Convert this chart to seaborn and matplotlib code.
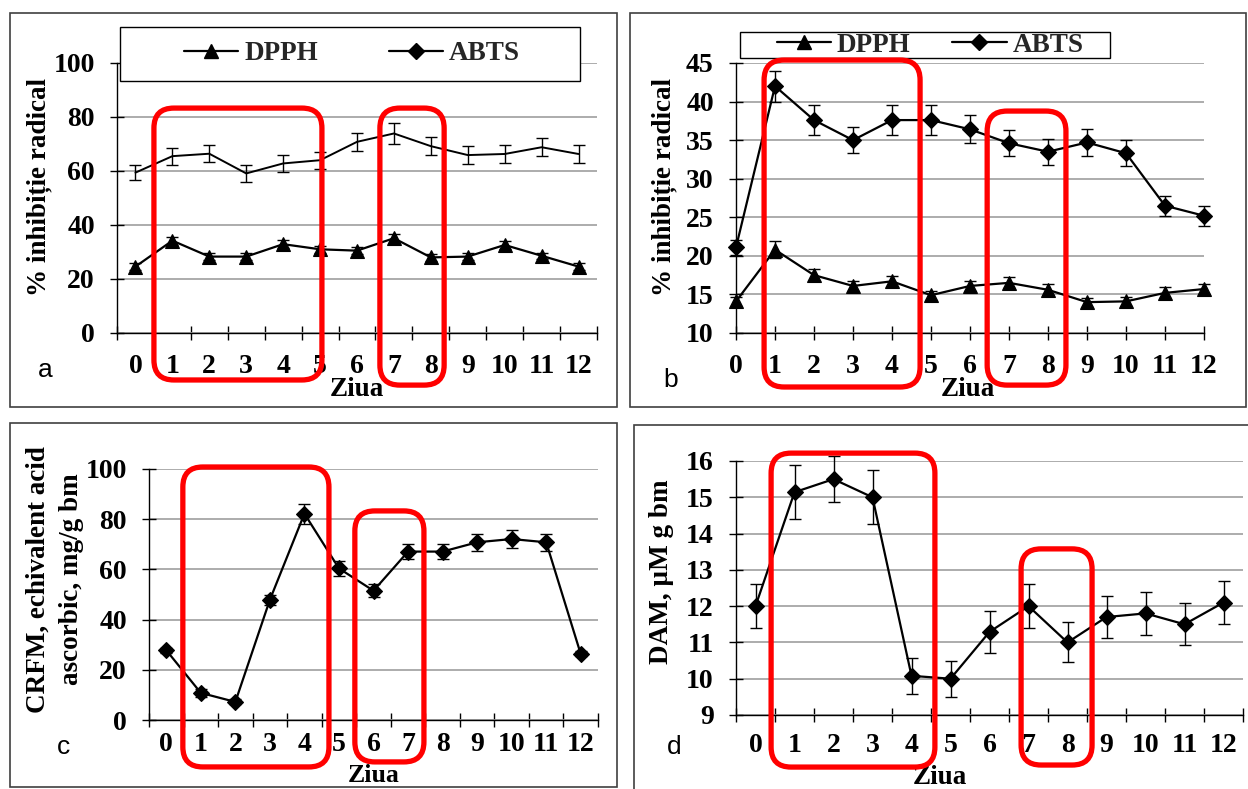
import numpy as np
import pandas as pd
import matplotlib
matplotlib.use("Agg")
import matplotlib.pyplot as plt
import seaborn as sns
from matplotlib.patches import FancyBboxPatch, Rectangle
from matplotlib.lines import Line2D
from matplotlib.transforms import blended_transform_factory, IdentityTransform

# ---------------- data ----------------
days = list(range(13))
day_labels = [str(d) for d in days]

a_dpph = [24.6, 34.2, 28.3, 28.3, 32.9, 31.0, 30.5, 35.1, 28.0, 28.3, 32.6, 28.6, 24.6]
a_dpph_err = [1.2, 1.5, 1.3, 1.3, 1.5, 1.3, 1.2, 1.6, 1.2, 1.2, 1.5, 1.2, 1.2]
a_abts = [59.4, 65.5, 66.4, 59.1, 62.8, 64.0, 70.8, 73.9, 69.2, 65.9, 66.3, 68.8, 66.3]
a_abts_err = [2.9, 3.2, 3.2, 3.0, 3.0, 3.1, 3.4, 3.8, 3.4, 3.3, 3.2, 3.4, 3.3]

b_dpph = [14.1, 20.8, 17.5, 16.1, 16.7, 14.9, 16.1, 16.5, 15.6, 14.0, 14.1, 15.2, 15.7]
b_dpph_err = [0.6, 1.1, 0.8, 0.7, 0.7, 0.6, 0.7, 0.7, 0.7, 0.6, 0.6, 0.7, 0.7]
b_abts = [21.1, 42.0, 37.6, 35.0, 37.6, 37.6, 36.4, 34.6, 33.5, 34.7, 33.3, 26.5, 25.2]
b_abts_err = [1.0, 2.0, 1.9, 1.7, 1.9, 1.9, 1.8, 1.7, 1.7, 1.7, 1.7, 1.3, 1.3]

c_crfm = [27.8, 10.8, 7.2, 47.9, 82.2, 60.4, 51.5, 67.1, 67.1, 70.8, 72.1, 70.8, 26.3]
c_crfm_err = [1.0, 1.5, 1.0, 2.0, 4.0, 3.0, 2.5, 3.0, 3.0, 3.5, 3.5, 3.5, 1.0]

d_dam = [12.0, 15.14, 15.5, 15.0, 10.08, 10.0, 11.29, 12.0, 11.0, 11.7, 11.8, 11.5, 12.1]
d_dam_err = [0.6, 0.75, 0.63, 0.75, 0.5, 0.5, 0.57, 0.6, 0.55, 0.58, 0.59, 0.58, 0.6]

series_names = ["DPPH", "ABTS"]

# highlight boxes: (x0, x1) in day units, (y_top, y_bottom) in axes fraction
boxes_a = [((0.50, 5.05), (0.833, -0.174)), ((6.62, 8.36), (0.833, -0.193))]
boxes_b = [((0.72, 4.72), (1.011, -0.200)), ((6.44, 8.46), (0.822, -0.193))]
boxes_c = [((0.48, 4.71), (1.008, -0.187)), ((5.46, 7.46), (0.833, -0.167))]
boxes_d = [((0.40, 4.60), (1.031, -0.205)), ((6.81, 8.63), (0.654, -0.197))]

# ---------------- style ----------------
sns.set_theme(style="white")
plt.rcParams["font.family"] = ["Liberation Serif", "DejaVu Serif"]
plt.rcParams["font.weight"] = "bold"
plt.rcParams["axes.labelweight"] = "bold"

W, H = 1248, 789
fig = plt.figure(figsize=(W / 100, H / 100), dpi=100)
fig.patch.set_facecolor("white")

FS = 20
FSL = 19.5
GRID = "#a6a6a6"


def add_ax(l, t, r, b):
    return fig.add_axes([l / W, 1 - b / H, (r - l) / W, (b - t) / H])


def fig_rect(x0, y0, x1, y1, **kw):
    r = Rectangle((x0 / W, 1 - y1 / H), (x1 - x0) / W, (y1 - y0) / H,
                  transform=fig.transFigure, **kw)
    fig.add_artist(r)
    return r


def style_ax(ax, ylim, yticks, categorical=True, xpad=15):
    ax.set_facecolor("white")
    for s in ["top", "right"]:
        ax.spines[s].set_visible(False)
    for s in ["left", "bottom"]:
        ax.spines[s].set_color("black")
        ax.spines[s].set_linewidth(1.0)
    ax.set_ylim(*ylim)
    ax.set_yticks(yticks)
    ax.set_yticklabels([str(v) for v in yticks], fontsize=FS, fontweight="bold")
    ax.yaxis.grid(True, color=GRID, lw=1.3)
    ax.xaxis.grid(False)
    ax.set_axisbelow(True)
    ax.tick_params(axis="y", direction="inout", length=10, width=1, color="black",
                   pad=11, left=True)
    if categorical:
        ax.set_xlim(-0.5, 12.5)
        ax.set_xticks(days)
        ax.set_xticklabels(day_labels, fontsize=FS, fontweight="bold")
        ax.set_xticks(np.arange(-0.5, 13, 1.0), minor=True)
        ax.tick_params(axis="x", which="major", length=0, pad=xpad)
        ax.tick_params(axis="x", which="minor", direction="inout", length=10,
                       width=1, color="black", bottom=True)
    else:
        ax.set_xlim(0, 12)
        ax.set_xticks(days)
        ax.set_xticklabels(day_labels, fontsize=FS, fontweight="bold")
        ax.tick_params(axis="x", which="major", direction="inout", length=10,
                       width=1, color="black", pad=xpad, bottom=True)
    ax.tick_params(axis="both", colors="black", labelcolor="black")


def draw_series(ax, y, err, marker, ms):
    ax.errorbar(days, y, yerr=err, fmt="none", ecolor="black", elinewidth=1.0,
                capsize=4, capthick=1.0, zorder=2, clip_on=False)
    sns.lineplot(x=days, y=y, ax=ax, color="black", lw=1.6, marker=marker,
                 markersize=ms, markeredgecolor="black", markeredgewidth=0.8,
                 errorbar=None, legend=False, zorder=3, clip_on=False)


def highlight(ax, boxes):
    trans = blended_transform_factory(ax.transData, ax.transAxes)
    for (x0, x1), (yt, yb) in boxes:
        (px0, py0) = trans.transform((x0, yb))
        (px1, py1) = trans.transform((x1, yt))
        p = FancyBboxPatch((px0, py0), px1 - px0, py1 - py0,
                           boxstyle="round,pad=0,rounding_size=20",
                           transform=IdentityTransform(), fill=False,
                           ec="#ff0000", lw=3.8, zorder=10)
        fig.add_artist(p)


def labels(ax, ylab, ylab_xy, xlab_xy, linespacing=1.2, xfs=FSL):
    ax.set_ylabel(ylab, fontsize=FSL, fontweight="bold", color="black",
                  linespacing=linespacing, va="center")
    ax.yaxis.set_label_coords(*ylab_xy)
    ax.set_xlabel("Ziua", fontsize=xfs, fontweight="bold", color="black", va="center")
    ax.xaxis.set_label_coords(*xlab_xy)


# panel frames
fig_rect(10, 13, 617, 407, fill=False, ec="#404040", lw=1.2, zorder=1)
fig_rect(630, 13, 1246, 407, fill=False, ec="#404040", lw=1.2, zorder=1)
fig_rect(10, 423, 617, 787, fill=False, ec="#404040", lw=1.2, zorder=1)
fig_rect(634, 425, 1260, 800, fill=False, ec="#404040", lw=1.2, zorder=1)

# ---------------- panel a ----------------
ax_a = add_ax(117, 63, 597, 333)
style_ax(ax_a, (0, 100), [0, 20, 40, 60, 80, 100], categorical=True, xpad=15)
draw_series(ax_a, a_dpph, a_dpph_err, "^", 10.5)
ax_a.errorbar(days, a_abts, yerr=a_abts_err, fmt="none", ecolor="black",
              elinewidth=1.0, capsize=4, capthick=1.0, zorder=2)
sns.lineplot(x=days, y=a_abts, ax=ax_a, color="black", lw=1.4, errorbar=None,
             legend=False, zorder=3)
labels(ax_a, "% inhibiție radical", (-0.163, 0.54), (0.5, -0.211))
highlight(ax_a, boxes_a)

# ---------------- panel b ----------------
ax_b = add_ax(736, 63, 1204, 333)
style_ax(ax_b, (10, 45), [10, 15, 20, 25, 30, 35, 40, 45], categorical=False, xpad=10)
draw_series(ax_b, b_dpph, b_dpph_err, "^", 10.5)
draw_series(ax_b, b_abts, b_abts_err, "D", 8.5)
labels(ax_b, "% inhibiție radical", (-0.154, 0.54), (0.496, -0.211))
highlight(ax_b, boxes_b)

# ---------------- panel c ----------------
ax_c = add_ax(149, 469, 598, 720)
style_ax(ax_c, (0, 100), [0, 20, 40, 60, 80, 100], categorical=True, xpad=8.5)
draw_series(ax_c, c_crfm, c_crfm_err, "D", 8.5)
labels(ax_c, "CRFM, echivalent acid\nascorbic, mg/g bm", (-0.209, 0.56),
       (0.5, -0.222), linespacing=1.45, xfs=18.5)
highlight(ax_c, boxes_c)

# ---------------- panel d ----------------
ax_d = add_ax(736, 461, 1243, 715)
style_ax(ax_d, (9, 16), [9, 10, 11, 12, 13, 14, 15, 16], categorical=True, xpad=13)
draw_series(ax_d, d_dam, d_dam_err, "D", 8.5)
labels(ax_d, "DAM, µM g bm", (-0.146, 0.563), (0.402, -0.248))
highlight(ax_d, boxes_d)

# ---------------- legends ----------------
handles = [Line2D([], [], color="black", lw=1.6, marker="^", markersize=10.5),
           Line2D([], [], color="black", lw=1.6, marker="D", markersize=8.5)]
leg_prop = dict(family="Liberation Serif", weight="bold", size=19.5)

fig_rect(120, 27, 580, 81, fc="white", ec="black", lw=1.0, zorder=4)
leg_a = fig.legend(handles, series_names, loc="center",
                   bbox_to_anchor=(352 / W, 1 - 54 / H), ncol=2, frameon=False,
                   handlelength=2.0, handletextpad=0.22, columnspacing=2.6,
                   prop=leg_prop)
leg_a.set_zorder(5)

fig_rect(740, 32, 1110, 58, fc="white", ec="black", lw=1.0, zorder=4)
leg_b = fig.legend(handles, series_names, loc="center",
                   bbox_to_anchor=(930 / W, 1 - 45 / H), ncol=2, frameon=False,
                   handlelength=2.0, handletextpad=0.22, columnspacing=1.55,
                   prop=leg_prop)
leg_b.set_zorder(5)

# ---------------- panel letters ----------------
for txt, (x, y) in {"a": (45, 370), "b": (671, 380), "c": (64, 747), "d": (674, 747)}.items():
    fig.text(x / W, 1 - y / H, txt, ha="center", va="center", fontsize=19,
             family="Liberation Sans", fontweight="normal", color="black")

fig.savefig("out.png", dpi=100, facecolor="white")
